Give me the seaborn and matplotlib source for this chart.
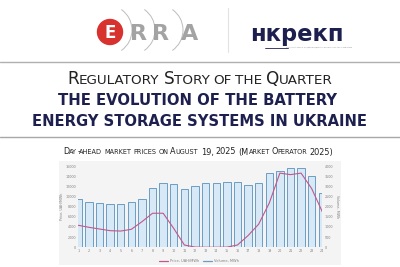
import matplotlib
matplotlib.use('Agg')
import matplotlib.pyplot as plt
import numpy as np
import pandas as pd
import seaborn as sns
from matplotlib.patches import Circle, Arc, Rectangle
from matplotlib.lines import Line2D

# ---------------- data ----------------
hours = [str(h) for h in range(1, 25)]
price = [4330, 3936, 3600, 3270, 3200, 3540, 5040, 6700, 6700, 3700, 450, 40, 10, 10, 30, 450,
         2300, 4550, 8700, 14600, 14300, 14600, 11550, 7000]
volume = [2360, 2250, 2165, 2115, 2115, 2250, 2362, 2902, 3148, 3120, 2853, 3020, 3148, 3148,
          3197, 3197, 3050, 3148, 3640, 3745, 3886, 3886, 3500, 2665]
price_ticks = [0, 2000, 4000, 6000, 8000, 10000, 12000, 14000, 16000]
volume_ticks = [0, 500, 1000, 1500, 2000, 2500, 3000, 3500, 4000]
price_label = "Price, UAH/MWh"
volume_label = "Volume, MWh"
header_small = "Regulatory Story of the Quarter"
header_line1 = "THE EVOLUTION OF THE BATTERY"
header_line2 = "ENERGY STORAGE SYSTEMS IN UKRAINE"
chart_title = "Day-ahead market prices on August 19, 2025 (Market Operator 2025)"
regulator = "нкрекп"
regulator_sub = "НАЦІОНАЛЬНА КОМІСІЯ, ЩО ЗДІЙСНЮЄ ДЕРЖАВНЕ РЕГУЛЮВАННЯ У СФЕРАХ ЕНЕРГЕТИКИ"

NAVY = "#1d1f4e"
PINK = "#c2578a"
BAR_FILL = "#d7e9f6"
BAR_EDGE = "#6b9dc4"
TICK = "#808080"
TS = 2.4

sns.set_theme(style="white")
plt.rcParams['font.family'] = ['DejaVu Sans']

W, H = 400, 267
fig = plt.figure(figsize=(4, 2.67), dpi=100)
fig.patch.set_facecolor("white")
renderer = fig.canvas.get_renderer()

bg = fig.add_axes([0, 0, 1, 1], zorder=0)
bg.set_xlim(0, W)
bg.set_ylim(H, 0)
bg.axis('off')


def px2fig(x, y):
    return x / W, 1 - y / H


def text_w(s, size, weight='normal', family='DejaVu Sans'):
    t1 = fig.text(0, 0, "X" + s + "X", fontsize=size, weight=weight, family=family)
    t2 = fig.text(0, 0, "XX", fontsize=size, weight=weight, family=family)
    w = t1.get_window_extent(renderer).width - t2.get_window_extent(renderer).width
    t1.remove(); t2.remove()
    return w


def fit_text(s, xc, ybase, width, color, weight='normal', family='DejaVu Sans'):
    w10 = text_w(s, 10, weight, family)
    size = 10 * width / w10
    fx, fy = px2fig(xc, ybase)
    fig.text(fx, fy, s, fontsize=size, weight=weight, family=family, color=color,
             ha='center', va='baseline')


def smallcaps(s, xc, ybase, width, color, weight='normal', ratio=0.8, family='DejaVu Sans'):
    pieces = []
    for ch in s:
        if ch == ' ':
            pieces.append([' ', None])
            continue
        small = ch.islower()
        if pieces and pieces[-1][1] == small:
            pieces[-1][0] += ch.upper()
        else:
            pieces.append([ch.upper(), small])

    def widths(size):
        ws = []
        for p, small in pieces:
            if small is None:
                ws.append(text_w(' ', size * ratio, weight, family))
            else:
                ws.append(text_w(p, size * (ratio if small else 1), weight, family))
        return ws

    ws = widths(10)
    size = 10 * width / sum(ws)
    ws = [w * size / 10 for w in ws]
    x = xc - sum(ws) / 2
    for (p, small), w in zip(pieces, ws):
        if small is not None:
            fx, fy = px2fig(x, ybase)
            fig.text(fx, fy, p, fontsize=size * (ratio if small else 1), weight=weight,
                     family=family, color=color, ha='left', va='baseline')
        x += w


# ---------------- logos ----------------
bg.add_patch(Circle((110, 32), 12.5, color="#d8322e", zorder=2))
bg.text(110, 32.5, "E", color="white", fontsize=12, weight='bold', ha='center', va='center', zorder=3)
for xc, letter in [(138, "R"), (161, "R"), (190, "A")]:
    bg.text(xc, 33.5, letter, color="#a3a3a3", fontsize=16, weight='bold', ha='center', va='center')
for xa in [129, 152, 180]:
    bg.add_patch(Arc((xa - 22, 30), 50, 50, theta1=-55, theta2=55, color="#bcbcbc", lw=0.7))
bg.plot([228, 228], [8, 52], color="#e2e2e2", lw=0.8)

fit_text(regulator, 297, 41.5, 93, NAVY, weight='bold')
bg.plot([265, 288], [47.5, 47.5], color=NAVY, lw=0.6)
fit_text(regulator_sub, 319, 48, 44, "#888888")

bg.plot([0, W], [62, 62], color="#b0b0b0", lw=1.0)
bg.plot([0, W], [137, 137], color="#a8a8a8", lw=1.0)

# ---------------- headers ----------------
smallcaps(header_small, 200, 84.5, 266, "#222222")
fit_text(header_line1, 198, 105, 280, NAVY, weight='bold')
fit_text(header_line2, 200, 126, 334, NAVY, weight='bold')
smallcaps(chart_title, 198, 154.5, 270, "#222222")

bg.add_patch(Rectangle((59, 160.5), 282, 104, color="#f4f4f4", zorder=1, lw=0))

# ---------------- chart ----------------
df = pd.DataFrame({"hour": hours, "pos": np.arange(len(hours)), "price": price, "volume": volume})

ax = fig.add_axes([78.3 / W, 19.7 / H, 244 / W, 81.3 / H], zorder=2)
ax.set_facecolor("none")
sns.barplot(data=df, x="hour", y="volume", ax=ax, color=BAR_FILL, saturation=1,
            edgecolor=BAR_EDGE, linewidth=0.7, width=0.7)

ax2 = ax.twinx()
ax2.set_facecolor("none")
sns.lineplot(data=df, x="pos", y="price", ax=ax2, color=PINK, lw=0.8)

# volume axis on the right
ax.set_ylim(0, 4000)
ax.set_yticks(volume_ticks)
ax.yaxis.set_ticks_position('right')
ax.yaxis.set_label_position('right')
ax.set_ylabel(volume_label, fontsize=TS, color=TICK, rotation=270, va='center')
ax.yaxis.set_label_coords((337.5 - 78.3) / 244, 0.5)
ax.set_xlabel("")

# price axis on the left
ax2.set_ylim(0, 16000)
ax2.set_yticks(price_ticks)
ax2.yaxis.set_ticks_position('left')
ax2.yaxis.set_label_position('left')
ax2.set_ylabel(price_label, fontsize=TS, color=TICK, va='center')
ax2.yaxis.set_label_coords((62 - 78.3) / 244, 0.5)
ax2.set_xlabel("")
ax.set_xlim(0, 23)
ax2.set_xlim(0, 23)

for a in (ax, ax2):
    for sp in a.spines.values():
        sp.set_visible(False)
    a.tick_params(length=0, labelsize=TS, labelcolor=TICK, pad=1.5)
    a.grid(False)
ax.tick_params(axis='y', labelleft=False, labelright=True)
ax2.tick_params(axis='y', labelleft=True, labelright=False)

handles = [Line2D([], [], color=PINK, lw=0.9), Line2D([], [], color=BAR_EDGE, lw=0.9)]
fig.legend(handles, [price_label, volume_label], loc='center', bbox_to_anchor=px2fig(199, 261),
           ncol=2, frameon=False, fontsize=2.6, handlelength=2.6, columnspacing=1.0,
           handletextpad=0.5, labelcolor=TICK)

fig.savefig("out.png", dpi=100, facecolor="white")
